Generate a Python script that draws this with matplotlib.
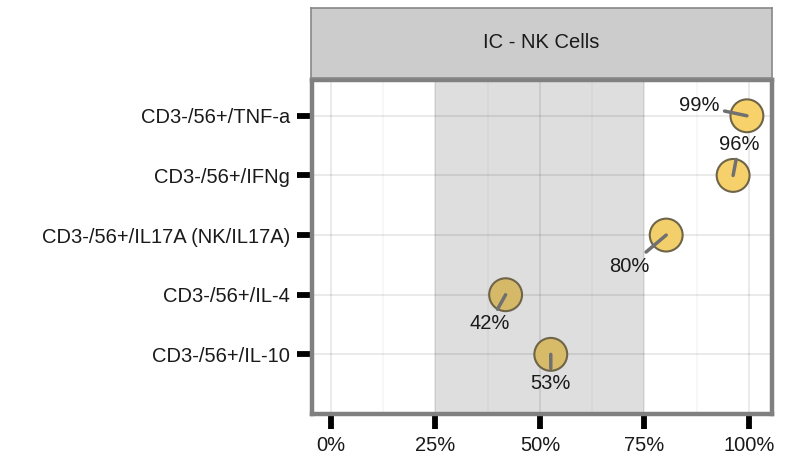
import matplotlib.pyplot as plt
from matplotlib.ticker import MultipleLocator, FuncFormatter

plt.rcParams['font.family'] = ['Liberation Sans', 'DejaVu Sans']

markers = ["CD3-/56+/IL-10", "CD3-/56+/IL-4", "CD3-/56+/IL17A (NK/IL17A)",
           "CD3-/56+/IFNg", "CD3-/56+/TNF-a"]
values = [52.6, 41.8, 80.2, 96.2, 99.5]
labels = ["53%", "42%", "80%", "96%", "99%"]
fills = ["#d8bb68", "#d6b968", "#f3cf6b", "#f6d16b", "#f7d26b"]
# where each repelled label sits (x, y offset in rows)
label_pos = [(52.6, -0.49), (37.9, -0.49), (71.4, -0.52), (97.6, 0.52), (88.0, 0.17)]

FS = 14.5

fig = plt.figure(figsize=(7.94, 4.57), dpi=100)
ax = fig.add_axes([312 / 794, 43 / 457, 460 / 794, 334 / 457])

ypos = list(range(1, len(markers) + 1))

ax.axvspan(25, 75, color="#dedede", zorder=0, lw=0)
ax.set_xlim(-4.5, 105.5)
ax.set_ylim(0.0, 5.6)
ax.xaxis.set_major_locator(MultipleLocator(25))
ax.xaxis.set_minor_locator(MultipleLocator(12.5))
ax.xaxis.set_major_formatter(FuncFormatter(lambda v, p: f"{v:.0f}%"))
ax.set_yticks(ypos)
ax.set_yticklabels(markers)
ax.grid(True, which="major", color="black", alpha=0.09, lw=1.3, zorder=0.5)
ax.grid(True, which="minor", axis="x", color="black", alpha=0.045, lw=1.1, zorder=0.5)
ax.set_axisbelow(True)

ax.scatter(values, ypos, s=560, c=fills, edgecolors="#6e6448", linewidths=1.5, zorder=3)

for v, y, lab, (lx, dy) in zip(values, ypos, labels, label_pos):
    ax.annotate(lab, xy=(v, y), xytext=(lx, y + dy), ha="center", va="center",
                fontsize=FS, color="#1a1a1a", zorder=4,
                arrowprops=dict(arrowstyle="-", color="#707070", lw=2.5,
                                shrinkA=2, shrinkB=0))

for s in ax.spines.values():
    s.set_color("#808080")
    s.set_linewidth(3.2)
ax.tick_params(axis="both", which="major", length=11, width=4.2, color="black",
               labelsize=FS, labelcolor="#1a1a1a", pad=5)
ax.tick_params(axis="x", which="minor", length=0)

# facet strip
strip = fig.add_axes([311 / 794, 379 / 457, 461 / 794, 70 / 457])
strip.set_xticks([])
strip.set_yticks([])
strip.set_facecolor("#cccccc")
for s in strip.spines.values():
    s.set_color("#888888")
    s.set_linewidth(1.2)
strip.text(0.5, 0.5, "IC - NK Cells", ha="center", va="center", fontsize=FS,
           color="#1a1a1a", transform=strip.transAxes)

fig.savefig("out.png", dpi=100)
